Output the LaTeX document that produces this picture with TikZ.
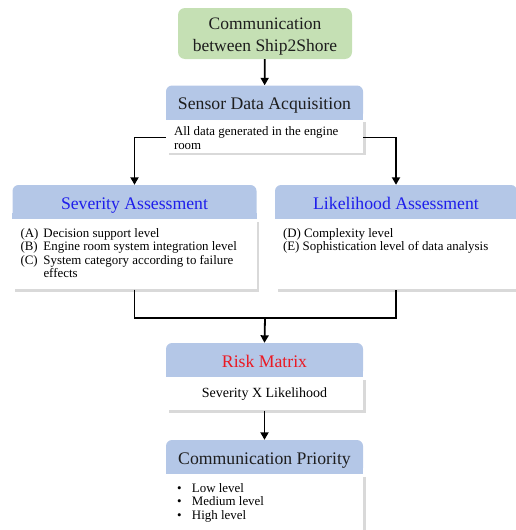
\documentclass[tikz,border=0pt]{standalone}
\usepackage{fontspec}
\setmainfont{Liberation Serif}
\usetikzlibrary{positioning,shadows,arrows.meta}

\definecolor{headblue}{RGB}{180,199,231}
\definecolor{shipgreen}{RGB}{197,224,180}
\definecolor{titleblue}{RGB}{30,30,235}
\definecolor{titlered}{RGB}{235,25,35}
\definecolor{titledark}{RGB}{30,30,30}

\newcommand{\bodytext}[3]{\parbox[c][#1][t]{#2}{\raggedright#3}}

\tikzset{
  flow line/.style={line width=1.8pt},
  flow arrow/.style={flow line,-{Triangle[length=7.5pt,width=8pt]}},
  ship box/.style={fill=shipgreen,rounded corners=7pt,minimum width=174pt,
    minimum height=51pt,align=center,text=titledark,
    font=\fontsize{17.5}{22}\selectfont},
  head box/.style={fill=headblue,rounded corners=6pt,minimum height=34pt,
    inner sep=0pt,text height=15pt,text depth=1pt,text=titledark,
    font=\fontsize{17.7}{21}\selectfont},
  body box/.style={fill=white,inner xsep=8pt,inner ysep=9pt,
    font=\fontsize{12.9}{13.5}\selectfont,
    drop shadow={shadow xshift=2.5pt,shadow yshift=-2.5pt,opacity=0.3}}
}

\begin{document}
\begin{tikzpicture}[x=1pt,y=-1pt]
  \useasboundingbox (0,0) rectangle (516,530);
  % top of the chain
  \node[ship box] (ship) at (265,33.5) {\rule{0pt}{18.5pt}Communication\\between Ship2Shore};
  \node[head box,minimum width=197pt] (sensor) at (264.5,102.5) {Sensor Data Acquisition};
  \node[body box,below=0pt of sensor,inner ysep=7pt] (sbody)
    {\bodytext{19pt}{181pt}{All data generated in the engine\\room}};

  % the two assessments
  \node[head box,minimum width=244pt,text=titleblue] (sev) at (134.5,202) {Severity Assessment};
  \node[body box,below=0pt of sev] (sevbody)
    {\bodytext{52pt}{228pt}{\makebox[23pt][l]{(A)}Decision support level\\
      \makebox[23pt][l]{(B)}Engine room system integration level\\
      \makebox[23pt][l]{(C)}System category according to failure\\
      \hspace*{23pt}effects}};
  \node[head box,minimum width=242pt,text=titleblue] (lik) at (396,202) {Likelihood Assessment};
  \node[body box,below=0pt of lik] (likbody)
    {\bodytext{52pt}{226pt}{(D) Complexity level\\
      (E) Sophistication level of data analysis}};

  % risk and priority
  \node[head box,minimum width=197pt,text=titlered] (risk) at (264.5,360) {Risk Matrix};
  \node[body box,below=0pt of risk,minimum width=197pt,minimum height=33pt,inner ysep=3pt,
    font=\fontsize{14}{16}\selectfont] (rbody) {Severity X Likelihood};
  \node[head box,minimum width=197pt] (prio) at (264.5,457) {Communication Priority};
  \node[body box,below=0pt of prio] (pbody)
    {\bodytext{60pt}{181pt}{\hspace*{3pt}\makebox[15pt][l]{\textbullet}Low level\\
      \hspace*{3pt}\makebox[15pt][l]{\textbullet}Medium level\\
      \hspace*{3pt}\makebox[15pt][l]{\textbullet}High level}};

  % square off the lower corners of the headers
  \foreach \n in {sensor,sev,lik,risk,prio}
    \fill[headblue] (\n.south west) rectangle ([yshift=6pt]\n.south east);

  \coordinate (join) at (265,318);
  \draw[flow arrow] (ship) -- (sensor);
  \draw[flow arrow] ([yshift=-1pt]sbody.west) -| (sev.north);
  \draw[flow arrow] ([yshift=-1pt]sbody.east) -| (lik.north);
  \draw[flow line] (sevbody.south) |- (join) -| (likbody.south);
  \draw[flow arrow] (join) -- (risk.north);
  \draw[flow arrow] (rbody) -- (prio);
\end{tikzpicture}
\end{document}
